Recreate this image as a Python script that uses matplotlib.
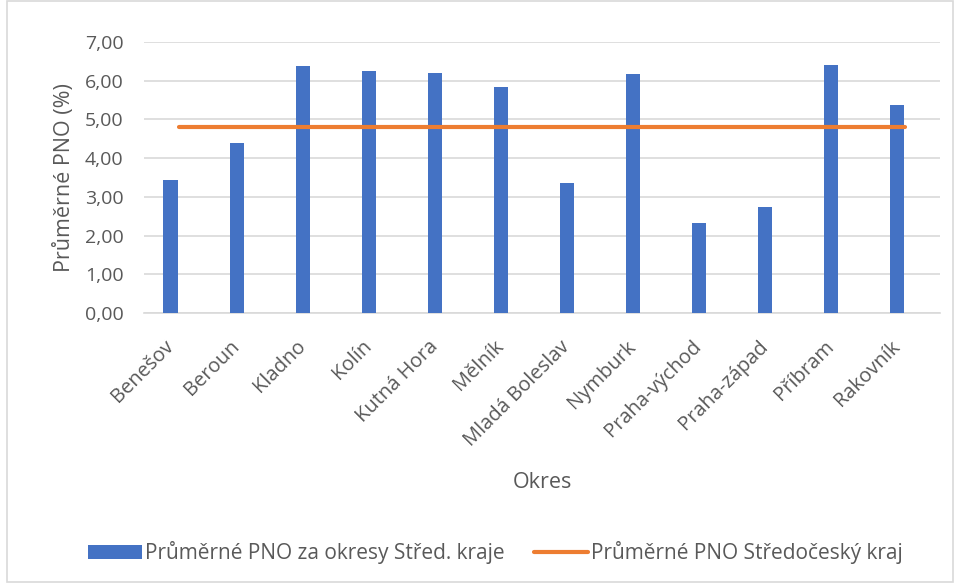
import numpy as np
import matplotlib.pyplot as plt
from matplotlib.patches import Rectangle

plt.rcParams['font.family'] = ['Open Sans', 'DejaVu Sans']

okresy = ['Benešov', 'Beroun', 'Kladno', 'Kolín', 'Kutná Hora', 'Mělník',
          'Mladá Boleslav', 'Nymburk', 'Praha-východ', 'Praha-západ',
          'Příbram', 'Rakovník']
pno_okres = [3.43, 4.39, 6.39, 6.26, 6.19, 5.85, 3.36, 6.18, 2.33, 2.74, 6.40, 5.36]
pno_kraj = [4.81] * len(okresy)
yticks = [0, 1, 2, 3, 4, 5, 6, 7]

grey = '#595959'
x = np.arange(len(okresy))

fig = plt.figure(figsize=(9.56, 5.83), dpi=100)
ax = fig.add_axes([0.151, 0.463, 0.832, 0.465])

bars = ax.bar(x, pno_okres, width=0.22, color='#4472C4', zorder=3)
line, = ax.plot(x + 0.12, pno_kraj, color='#ED7D31', lw=3, solid_capstyle='round',
                zorder=4)

ax.set_xlim(-0.4, 11.65)
ax.set_ylim(0, 7)
ax.set_yticks(yticks)
ax.set_yticklabels([f'{v:.2f}'.replace('.', ',') for v in yticks])
ax.yaxis.grid(True, color='#D9D9D9', lw=1.2, zorder=0)
for s in ['top', 'right', 'left']:
    ax.spines[s].set_visible(False)
ax.spines['bottom'].set_color('#D9D9D9')
ax.spines['bottom'].set_linewidth(1.2)
ax.tick_params(axis='y', length=0, colors=grey, labelsize=14, pad=15)
ax.set_xticks(x)
ax.set_xticklabels(okresy, rotation=45, ha='right', va='center', rotation_mode='anchor')
ax.tick_params(axis='x', length=0, colors=grey, labelsize=14.5, pad=22)

ax.set_ylabel('Průměrné PNO (%)', color=grey, fontsize=15.5, labelpad=7)
ax.set_xlabel('Okres', color=grey, fontsize=15.5, labelpad=16)

fig.legend([bars, line], ['Průměrné PNO za okresy Střed. kraje', 'Průměrné PNO Středočeský kraj'],
           loc='lower center', bbox_to_anchor=(0.518, 0.0), ncol=2, frameon=False,
           fontsize=15, labelcolor=grey, handlelength=2.6, columnspacing=1.4,
           handletextpad=0.15)

fig.patches.append(Rectangle((0.007, 0.002), 0.99, 0.996, transform=fig.transFigure,
                             fill=False, edgecolor='#D9D9D9', lw=1.2))

fig.savefig('out.png', dpi=100)
